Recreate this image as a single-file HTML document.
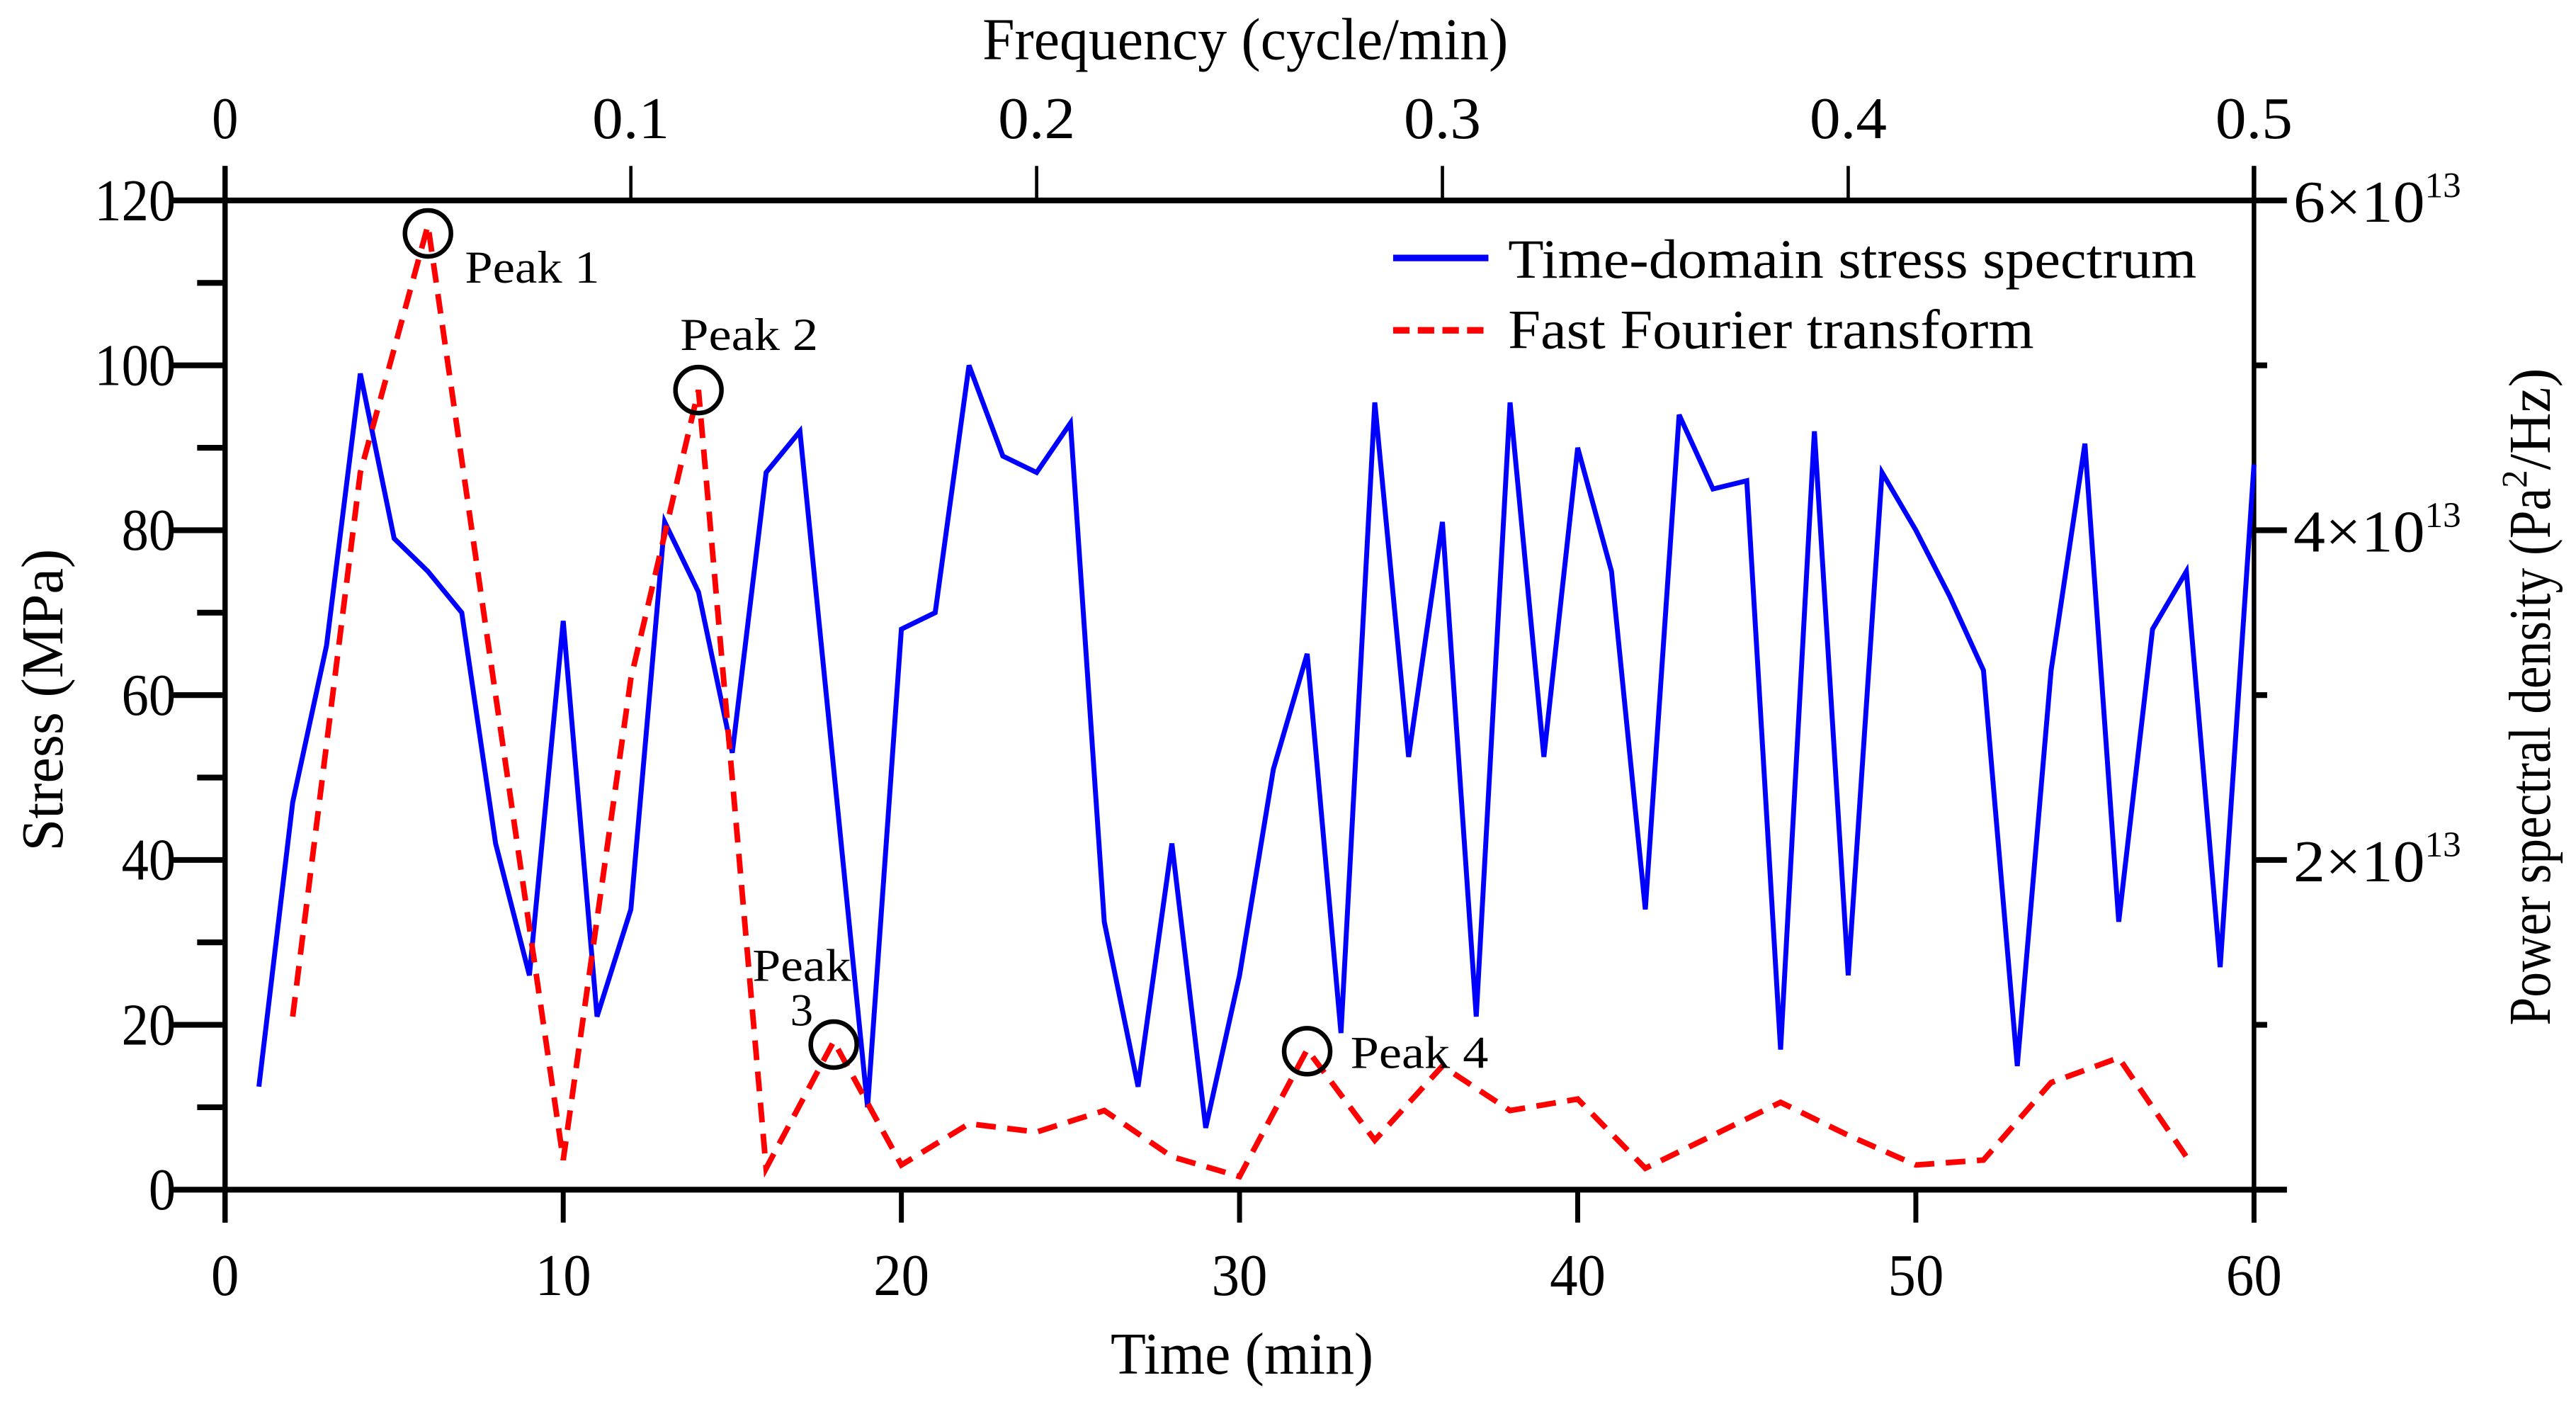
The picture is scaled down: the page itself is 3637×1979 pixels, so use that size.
<!DOCTYPE html>
<html><head><meta charset="utf-8"><style>html,body{margin:0;padding:0;background:#fff}svg{display:block}text{font-family:"Liberation Serif",serif;fill:#000}</style></head>
<body>
<svg id="chart" width="3637" height="1979" viewBox="0 0 1568 853.2" preserveAspectRatio="none" xmlns="http://www.w3.org/2000/svg">
<g id="axes"></g>
<g id="series"></g>
<g id="annot"></g>
</svg>
<script>
const timeVals = [1,2,3,4,5,6,7,8,9,10,11,12,13,14,15,16,17,18,19,20,21,22,23,24,25,26,27,28,29,30,31,32,33,34,35,36,37,38,39,40,41,42,43,44,45,46,47,48,49,50,51,52,53,54,55,56,57,58,59,60];
const stressVals = [12.5,47,66,99,79,75,70,42,26,69,21,34,81,72.5,53,87,92,51,10,68,70,100,89,87,93,32.5,12.5,42,7.5,26,51,65,19,95.5,52.5,81,21,95.5,52.5,90,75,34,94,85,86,17,92,26,87,80,72,63,15,63,90.5,32.5,68,75,27,88];
const fftTimes = [2,4,6,8,10,12,14,16,18,20,22,24,26,28,30,32,34,36,38,40,42,44,46,48,50,52,54,56,58];
const psdVals = [1.05,4.35,5.85,3.0,0.18,3.1,4.85,0.13,0.9,0.15,0.4,0.35,0.48,0.2,0.08,0.85,0.3,0.75,0.48,0.55,0.13,0.33,0.53,0.33,0.15,0.18,0.65,0.8,0.2];
const xTicks = [0,10,20,30,40,50,60];
const yTicks = [0,20,40,60,80,100,120];
const freqTicks = [0,0.1,0.2,0.3,0.4,0.5];
const freqLabels = ["0","0.1","0.2","0.3","0.4","0.5"];
const psdTicks = [2,4,6];
const peakTimes = [6,14,18,32];
const peakPsd = [5.8,4.85,0.88,0.84];

const NS="http://www.w3.org/2000/svg";
const L=137,R=1372,T=122,B=724;
const xs=v=>L+(v/60)*(R-L);
const ys=v=>B-(v/120)*(B-T);
const xf=v=>L+(v/0.5)*(R-L);
const yp=v=>B-(v/6)*(B-T);
function mk(tag,parent,attrs){const e=document.createElementNS(NS,tag);for(const k in attrs)e.setAttribute(k,attrs[k]);parent.appendChild(e);return e;}
const axes=document.getElementById('axes'),series=document.getElementById('series'),annot=document.getElementById('annot');
let e;
e=mk('line',axes,{x1:L,y1:B,x2:R+20,y2:B,stroke:'#000','stroke-width':3.5});

e=mk('line',axes,{x1:L-32,y1:T,x2:R+1.5,y2:T,stroke:'#000','stroke-width':3.5});

e=mk('line',axes,{x1:L,y1:T-21,x2:L,y2:B+20,stroke:'#000','stroke-width':3.2});

e=mk('line',axes,{x1:R,y1:T-21,x2:R,y2:B+20,stroke:'#000','stroke-width':2.8});

xTicks.forEach(v=>{
  e=mk('line',axes,{x1:xs(v),y1:B,x2:xs(v),y2:B+20,stroke:'#000','stroke-width':3});
  
  const s=String(v);
  e=mk('text',axes,{x:xs(v),y:788,'font-size':36,'text-anchor':'middle',textLength:s.length*17,lengthAdjust:'spacingAndGlyphs'});e.textContent=s;
  
});
yTicks.forEach(v=>{
  e=mk('line',axes,{x1:L-32,y1:ys(v),x2:L,y2:ys(v),stroke:'#000','stroke-width':3.5});
  
  const s=String(v);
  e=mk('text',axes,{x:107,y:ys(v)+12,'font-size':36,'text-anchor':'end',textLength:s.length*16.5,lengthAdjust:'spacingAndGlyphs'});e.textContent=s;
  
  if(v<120){
    e=mk('line',axes,{x1:L-17,y1:ys(v+10),x2:L,y2:ys(v+10),stroke:'#000','stroke-width':3.5});
    
  }
});
freqTicks.forEach((v,i)=>{
  e=mk('line',axes,{x1:xf(v),y1:T-21,x2:xf(v),y2:T,stroke:'#000','stroke-width':2});
  
  const s=freqLabels[i];
  e=mk('text',axes,{x:xf(v),y:84,'font-size':36,'text-anchor':'middle',textLength:s.length*14+(s.length>1?5:2),lengthAdjust:'spacingAndGlyphs'});e.textContent=s;
  
});
[0,1,2,3,4,5,6].forEach(v=>{
  const major=psdTicks.indexOf(v)>=0||v===0;
  e=mk('line',axes,{x1:R,y1:yp(v),x2:R+(major?20:8),y2:yp(v),stroke:'#000','stroke-width':3.5});
  
});
psdTicks.forEach(v=>{
  e=mk('text',axes,{x:1396,y:yp(v)+13,'font-size':36});
  
  const t1=mk('tspan',e,{textLength:80,lengthAdjust:'spacingAndGlyphs'});t1.textContent=v+'×10';
  const t2=mk('tspan',e,{'font-size':22,dy:-15,textLength:22,lengthAdjust:'spacingAndGlyphs'});t2.textContent='13';
});
e=mk('text',axes,{x:758,y:36,'font-size':36,'text-anchor':'middle',textLength:320,lengthAdjust:'spacingAndGlyphs'});e.textContent='Frequency (cycle/min)';

e=mk('text',axes,{x:756,y:836,'font-size':36,'text-anchor':'middle',textLength:160,lengthAdjust:'spacingAndGlyphs'});e.textContent='Time (min)';

e=mk('text',axes,{x:0,y:0,'font-size':36,'text-anchor':'middle',textLength:184,lengthAdjust:'spacingAndGlyphs',transform:'translate(38,426) rotate(-90)'});e.textContent='Stress (MPa)';

e=mk('text',axes,{x:0,y:0,'font-size':36,'text-anchor':'middle',transform:'translate(1552,424) rotate(-90)'});

let a=mk('tspan',e,{textLength:327,lengthAdjust:'spacingAndGlyphs'});a.textContent='Power spectral density (Pa';
a=mk('tspan',e,{'font-size':22,dy:-14});a.textContent='2';
a=mk('tspan',e,{dy:14,textLength:62,lengthAdjust:'spacingAndGlyphs'});a.textContent='/Hz)';
e=mk('polyline',series,{points:timeVals.map((t,i)=>xs(t)+','+ys(stressVals[i])).join(' '),fill:'none',stroke:'#0000ff','stroke-width':3,'stroke-linejoin':'miter','stroke-miterlimit':4});

e=mk('polyline',series,{points:fftTimes.map((t,i)=>xs(t)+','+yp(psdVals[i])).join(' '),fill:'none',stroke:'#ff0000','stroke-width':3.4,'stroke-dasharray':'12 7'});

const peakLabels=[{t:'Peak 1',x:283,y:172,w:82},{t:'Peak 2',x:414,y:213,w:84},{t:'Peak 4',x:822,y:650,w:84}];
peakTimes.forEach((t,i)=>{
  e=mk('circle',annot,{cx:xs(t),cy:yp(peakPsd[i]),r:14,fill:'none',stroke:'#000','stroke-width':2.8});
  
});
peakLabels.forEach(p=>{
  e=mk('text',annot,{x:p.x,y:p.y,'font-size':28,textLength:p.w,lengthAdjust:'spacingAndGlyphs'});e.textContent=p.t;
  
});
e=mk('text',annot,{x:458,y:597,'font-size':28,textLength:60,lengthAdjust:'spacingAndGlyphs'});e.textContent='Peak';

e=mk('text',annot,{x:481,y:624,'font-size':28});e.textContent='3';

e=mk('line',annot,{x1:848,y1:157,x2:906,y2:157,stroke:'#0000ff','stroke-width':4});

e=mk('text',annot,{x:918,y:169,'font-size':34,textLength:419,lengthAdjust:'spacingAndGlyphs'});e.textContent='Time-domain stress spectrum';

e=mk('line',annot,{x1:848,y1:201,x2:906,y2:201,stroke:'#ff0000','stroke-width':4,'stroke-dasharray':'10 5'});

e=mk('text',annot,{x:918,y:212,'font-size':34,textLength:320,lengthAdjust:'spacingAndGlyphs'});e.textContent='Fast Fourier transform';

</script>
</body></html>
